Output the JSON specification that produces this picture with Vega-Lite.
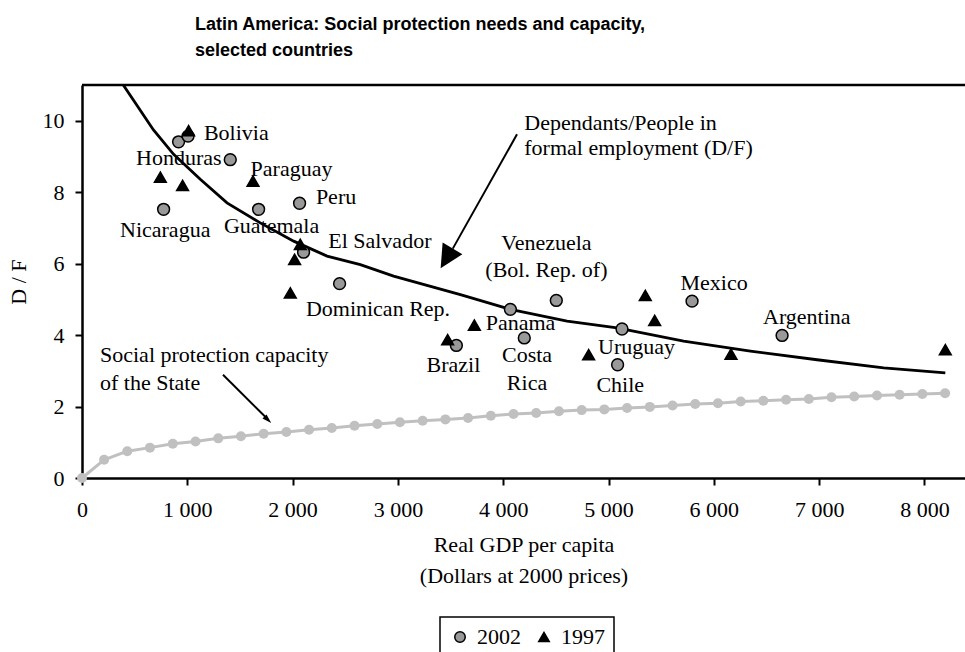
{
  "$schema": "https://vega.github.io/schema/vega-lite/v6.json",
  "autosize": {"type": "none"},
  "padding": {"left": 82, "top": 85, "right": 0, "bottom": 174},
  "width": 883,
  "height": 393,
  "background": "white",
  "title": {
    "text": ["Latin America: Social protection needs and capacity,", "selected countries"],
    "anchor": "start",
    "frame": "group",
    "dx": 113,
    "offset": 24,
    "font": "Liberation Sans",
    "fontWeight": "bold",
    "fontSize": 18,
    "lineHeight": 26,
    "color": "black"
  },
  "config": {
    "font": "Liberation Serif",
    "view": {"stroke": null},
    "axis": {
      "grid": false,
      "domainColor": "black",
      "tickColor": "black",
      "labelColor": "black",
      "titleColor": "black",
      "labelFont": "Liberation Serif",
      "titleFont": "Liberation Serif",
      "labelFontSize": 22,
      "titleFontSize": 22,
      "titleFontWeight": "normal",
      "domainWidth": 2.5,
      "tickWidth": 2,
      "tickSize": 7,
      "labelFlush": false,
      "labelOverlap": false
    },
    "legend": {
      "orient": "none",
      "legendX": 358,
      "legendY": 532,
      "direction": "horizontal",
      "strokeColor": "black",
      "strokeWidth": 1.5,
      "padding": 9,
      "labelFont": "Liberation Serif",
      "labelFontSize": 22,
      "labelColor": "black",
      "symbolSize": 110,
      "symbolStrokeColor": "black",
      "symbolStrokeWidth": 1.5,
      "columnPadding": 12,
      "labelOffset": 6
    }
  },
  "datasets": {
    "capacity": [
      {"x": 0, "y": 0}, {"x": 210, "y": 0.51}, {"x": 430, "y": 0.75}, {"x": 645, "y": 0.85},
      {"x": 862, "y": 0.96}, {"x": 1078, "y": 1.02}, {"x": 1294, "y": 1.11}, {"x": 1509, "y": 1.17},
      {"x": 1725, "y": 1.24}, {"x": 1941, "y": 1.29}, {"x": 2156, "y": 1.35}, {"x": 2372, "y": 1.40},
      {"x": 2588, "y": 1.46}, {"x": 2804, "y": 1.51}, {"x": 3019, "y": 1.56}, {"x": 3235, "y": 1.60},
      {"x": 3451, "y": 1.64}, {"x": 3666, "y": 1.68}, {"x": 3882, "y": 1.74}, {"x": 4098, "y": 1.79},
      {"x": 4313, "y": 1.82}, {"x": 4529, "y": 1.87}, {"x": 4745, "y": 1.90}, {"x": 4960, "y": 1.92},
      {"x": 5176, "y": 1.96}, {"x": 5392, "y": 1.99}, {"x": 5608, "y": 2.03}, {"x": 5823, "y": 2.07},
      {"x": 6039, "y": 2.09}, {"x": 6255, "y": 2.14}, {"x": 6470, "y": 2.16}, {"x": 6686, "y": 2.19},
      {"x": 6902, "y": 2.21}, {"x": 7117, "y": 2.26}, {"x": 7333, "y": 2.28}, {"x": 7549, "y": 2.31},
      {"x": 7764, "y": 2.33}, {"x": 7980, "y": 2.35}, {"x": 8196, "y": 2.37}
    ],
    "df": [
      {"x": 392, "y": 11.0}, {"x": 677, "y": 9.75}, {"x": 870, "y": 9.06}, {"x": 1123, "y": 8.36},
      {"x": 1377, "y": 7.70}, {"x": 1693, "y": 7.14}, {"x": 2010, "y": 6.63}, {"x": 2327, "y": 6.21},
      {"x": 2643, "y": 5.97}, {"x": 2959, "y": 5.65}, {"x": 3593, "y": 5.13}, {"x": 4068, "y": 4.72},
      {"x": 4606, "y": 4.39}, {"x": 5081, "y": 4.20}, {"x": 5713, "y": 3.83}, {"x": 6347, "y": 3.55},
      {"x": 6980, "y": 3.31}, {"x": 7613, "y": 3.08}, {"x": 8198, "y": 2.94}
    ],
    "countries": [
      {"year": "2002", "x": 917, "y": 9.41},
      {"year": "2002", "x": 1007, "y": 9.57},
      {"year": "2002", "x": 1408, "y": 8.91},
      {"year": "2002", "x": 775, "y": 7.52},
      {"year": "2002", "x": 1677, "y": 7.52},
      {"year": "2002", "x": 2066, "y": 7.69},
      {"year": "2002", "x": 2104, "y": 6.32},
      {"year": "2002", "x": 2446, "y": 5.44},
      {"year": "2002", "x": 3555, "y": 3.71},
      {"year": "2002", "x": 4068, "y": 4.72},
      {"year": "2002", "x": 4504, "y": 4.97},
      {"year": "2002", "x": 4200, "y": 3.92},
      {"year": "2002", "x": 5128, "y": 4.17},
      {"year": "2002", "x": 5086, "y": 3.17},
      {"year": "2002", "x": 5793, "y": 4.95},
      {"year": "2002", "x": 6648, "y": 3.99},
      {"year": "1997", "x": 1012, "y": 9.72},
      {"year": "1997", "x": 744, "y": 8.42},
      {"year": "1997", "x": 955, "y": 8.19},
      {"year": "1997", "x": 1624, "y": 8.31},
      {"year": "1997", "x": 2073, "y": 6.54},
      {"year": "1997", "x": 2019, "y": 6.12},
      {"year": "1997", "x": 1978, "y": 5.18},
      {"year": "1997", "x": 3726, "y": 4.28},
      {"year": "1997", "x": 3472, "y": 3.87},
      {"year": "1997", "x": 4811, "y": 3.45},
      {"year": "1997", "x": 5349, "y": 5.11},
      {"year": "1997", "x": 5438, "y": 4.41},
      {"year": "1997", "x": 6163, "y": 3.47},
      {"year": "1997", "x": 8198, "y": 3.59}
    ],
    "labelsLeft": [
      {"label": "Bolivia", "x": 1158, "y": 9.66},
      {"label": "Honduras", "x": 513, "y": 8.97},
      {"label": "Paraguay", "x": 1601, "y": 8.65},
      {"label": "Peru", "x": 2221, "y": 7.86},
      {"label": "Nicaragua", "x": 361, "y": 6.93},
      {"label": "Guatemala", "x": 1348, "y": 7.04},
      {"label": "El Salvador", "x": 2338, "y": 6.62},
      {"label": "Dominican Rep.", "x": 2126, "y": 4.73},
      {"label": "Brazil", "x": 3272, "y": 3.17},
      {"label": "Panama", "x": 3834, "y": 4.35},
      {"label": "Uruguay", "x": 4900, "y": 3.67},
      {"label": "Chile", "x": 4885, "y": 2.61},
      {"label": "Mexico", "x": 5683, "y": 5.46},
      {"label": "Argentina", "x": 6467, "y": 4.51},
      {"label": "Dependants/People in", "x": 4200, "y": 9.94},
      {"label": "formal employment (D/F)", "x": 4200, "y": 9.24},
      {"label": "Social protection capacity", "x": 171, "y": 3.43},
      {"label": "of the State", "x": 171, "y": 2.66}
    ],
    "labelsCenter": [
      {"label": "Venezuela", "x": 4410, "y": 6.58},
      {"label": "(Bol. Rep. of)", "x": 4410, "y": 5.83},
      {"label": "Costa", "x": 4226, "y": 3.45},
      {"label": "Rica", "x": 4226, "y": 2.66}
    ]
  },
  "layer": [
    {
      "data": {"name": "capacity"},
      "mark": {"type": "line", "color": "#c0c0c0", "strokeWidth": 3, "point": {"filled": true, "size": 100, "color": "#c0c0c0", "opacity": 1}},
      "encoding": {
        "x": {
          "field": "x", "type": "quantitative",
          "scale": {"domain": [0, 8385], "nice": false, "zero": false},
          "axis": {
            "values": [0, 1000, 2000, 3000, 4000, 5000, 6000, 7000, 8000],
            "labelExpr": "replace(format(datum.value, ','), ',', ' ')",
            "labelPadding": 14,
            "title": ["Real GDP per capita", "(Dollars at 2000 prices)"],
            "titlePadding": 14,
            "titleLineHeight": 31
          }
        },
        "y": {
          "field": "y", "type": "quantitative",
          "scale": {"domain": [0, 11], "nice": false, "zero": false},
          "axis": {
            "values": [0, 2, 4, 6, 8, 10],
            "labelPadding": 11,
            "title": "D / F",
            "titlePadding": 12
          }
        }
      }
    },
    {
      "data": {"values": [{"y": 11}]},
      "mark": {"type": "rule", "color": "black", "strokeWidth": 2.5},
      "encoding": {
        "y": {"field": "y", "type": "quantitative", "scale": {"domain": [0, 11], "nice": false, "zero": false}}
      }
    },
    {
      "data": {"name": "df"},
      "mark": {"type": "line", "color": "black", "strokeWidth": 2.8, "clip": true},
      "encoding": {
        "x": {"field": "x", "type": "quantitative", "scale": {"domain": [0, 8385], "nice": false, "zero": false}},
        "y": {"field": "y", "type": "quantitative", "scale": {"domain": [0, 11], "nice": false, "zero": false}}
      }
    },
    {
      "data": {"name": "countries"},
      "mark": {"type": "point", "filled": true, "stroke": "black", "strokeWidth": 1.5, "size": 140, "opacity": 1},
      "encoding": {
        "x": {"field": "x", "type": "quantitative", "scale": {"domain": [0, 8385], "nice": false, "zero": false}},
        "y": {"field": "y", "type": "quantitative", "scale": {"domain": [0, 11], "nice": false, "zero": false}},
        "shape": {"field": "year", "type": "nominal", "scale": {"domain": ["2002", "1997"], "range": ["circle", "triangle-up"]}, "legend": {"title": null}},
        "color": {"field": "year", "type": "nominal", "scale": {"domain": ["2002", "1997"], "range": ["#999999", "#000000"]}, "legend": {"title": null}}
      }
    },
    {
      "data": {"name": "labelsLeft"},
      "mark": {"type": "text", "align": "left", "baseline": "middle", "fontSize": 22, "font": "Liberation Serif", "color": "black"},
      "encoding": {
        "x": {"field": "x", "type": "quantitative", "scale": {"domain": [0, 8385], "nice": false, "zero": false}},
        "y": {"field": "y", "type": "quantitative", "scale": {"domain": [0, 11], "nice": false, "zero": false}},
        "text": {"field": "label", "type": "nominal"}
      }
    },
    {
      "data": {"name": "labelsCenter"},
      "mark": {"type": "text", "align": "center", "baseline": "middle", "fontSize": 22, "font": "Liberation Serif", "color": "black"},
      "encoding": {
        "x": {"field": "x", "type": "quantitative", "scale": {"domain": [0, 8385], "nice": false, "zero": false}},
        "y": {"field": "y", "type": "quantitative", "scale": {"domain": [0, 11], "nice": false, "zero": false}},
        "text": {"field": "label", "type": "nominal"}
      }
    },
    {
      "data": {"values": [{"x": 4131, "y": 9.62, "x2": 3521, "y2": 6.42}]},
      "mark": {"type": "rule", "color": "black", "strokeWidth": 2},
      "encoding": {
        "x": {"field": "x", "type": "quantitative", "scale": {"domain": [0, 8385], "nice": false, "zero": false}},
        "y": {"field": "y", "type": "quantitative", "scale": {"domain": [0, 11], "nice": false, "zero": false}},
        "x2": {"field": "x2"},
        "y2": {"field": "y2"}
      }
    },
    {
      "data": {"values": [{"x": 3462, "y": 6.15}]},
      "mark": {"type": "point", "shape": "M0,-1L-1,1L1,1Z", "size": 529, "angle": 211, "filled": true, "color": "black", "opacity": 1},
      "encoding": {
        "x": {"field": "x", "type": "quantitative", "scale": {"domain": [0, 8385], "nice": false, "zero": false}},
        "y": {"field": "y", "type": "quantitative", "scale": {"domain": [0, 11], "nice": false, "zero": false}}
      }
    },
    {
      "data": {"values": [{"x": 1339, "y": 2.89, "x2": 1745, "y2": 1.70}]},
      "mark": {"type": "rule", "color": "black", "strokeWidth": 2},
      "encoding": {
        "x": {"field": "x", "type": "quantitative", "scale": {"domain": [0, 8385], "nice": false, "zero": false}},
        "y": {"field": "y", "type": "quantitative", "scale": {"domain": [0, 11], "nice": false, "zero": false}},
        "x2": {"field": "x2"},
        "y2": {"field": "y2"}
      }
    },
    {
      "data": {"values": [{"x": 1765, "y": 1.63}]},
      "mark": {"type": "point", "shape": "M0,-1L-0.6,1L0.6,1Z", "size": 90, "angle": 135, "filled": true, "color": "black", "opacity": 1},
      "encoding": {
        "x": {"field": "x", "type": "quantitative", "scale": {"domain": [0, 8385], "nice": false, "zero": false}},
        "y": {"field": "y", "type": "quantitative", "scale": {"domain": [0, 11], "nice": false, "zero": false}}
      }
    }
  ]
}
